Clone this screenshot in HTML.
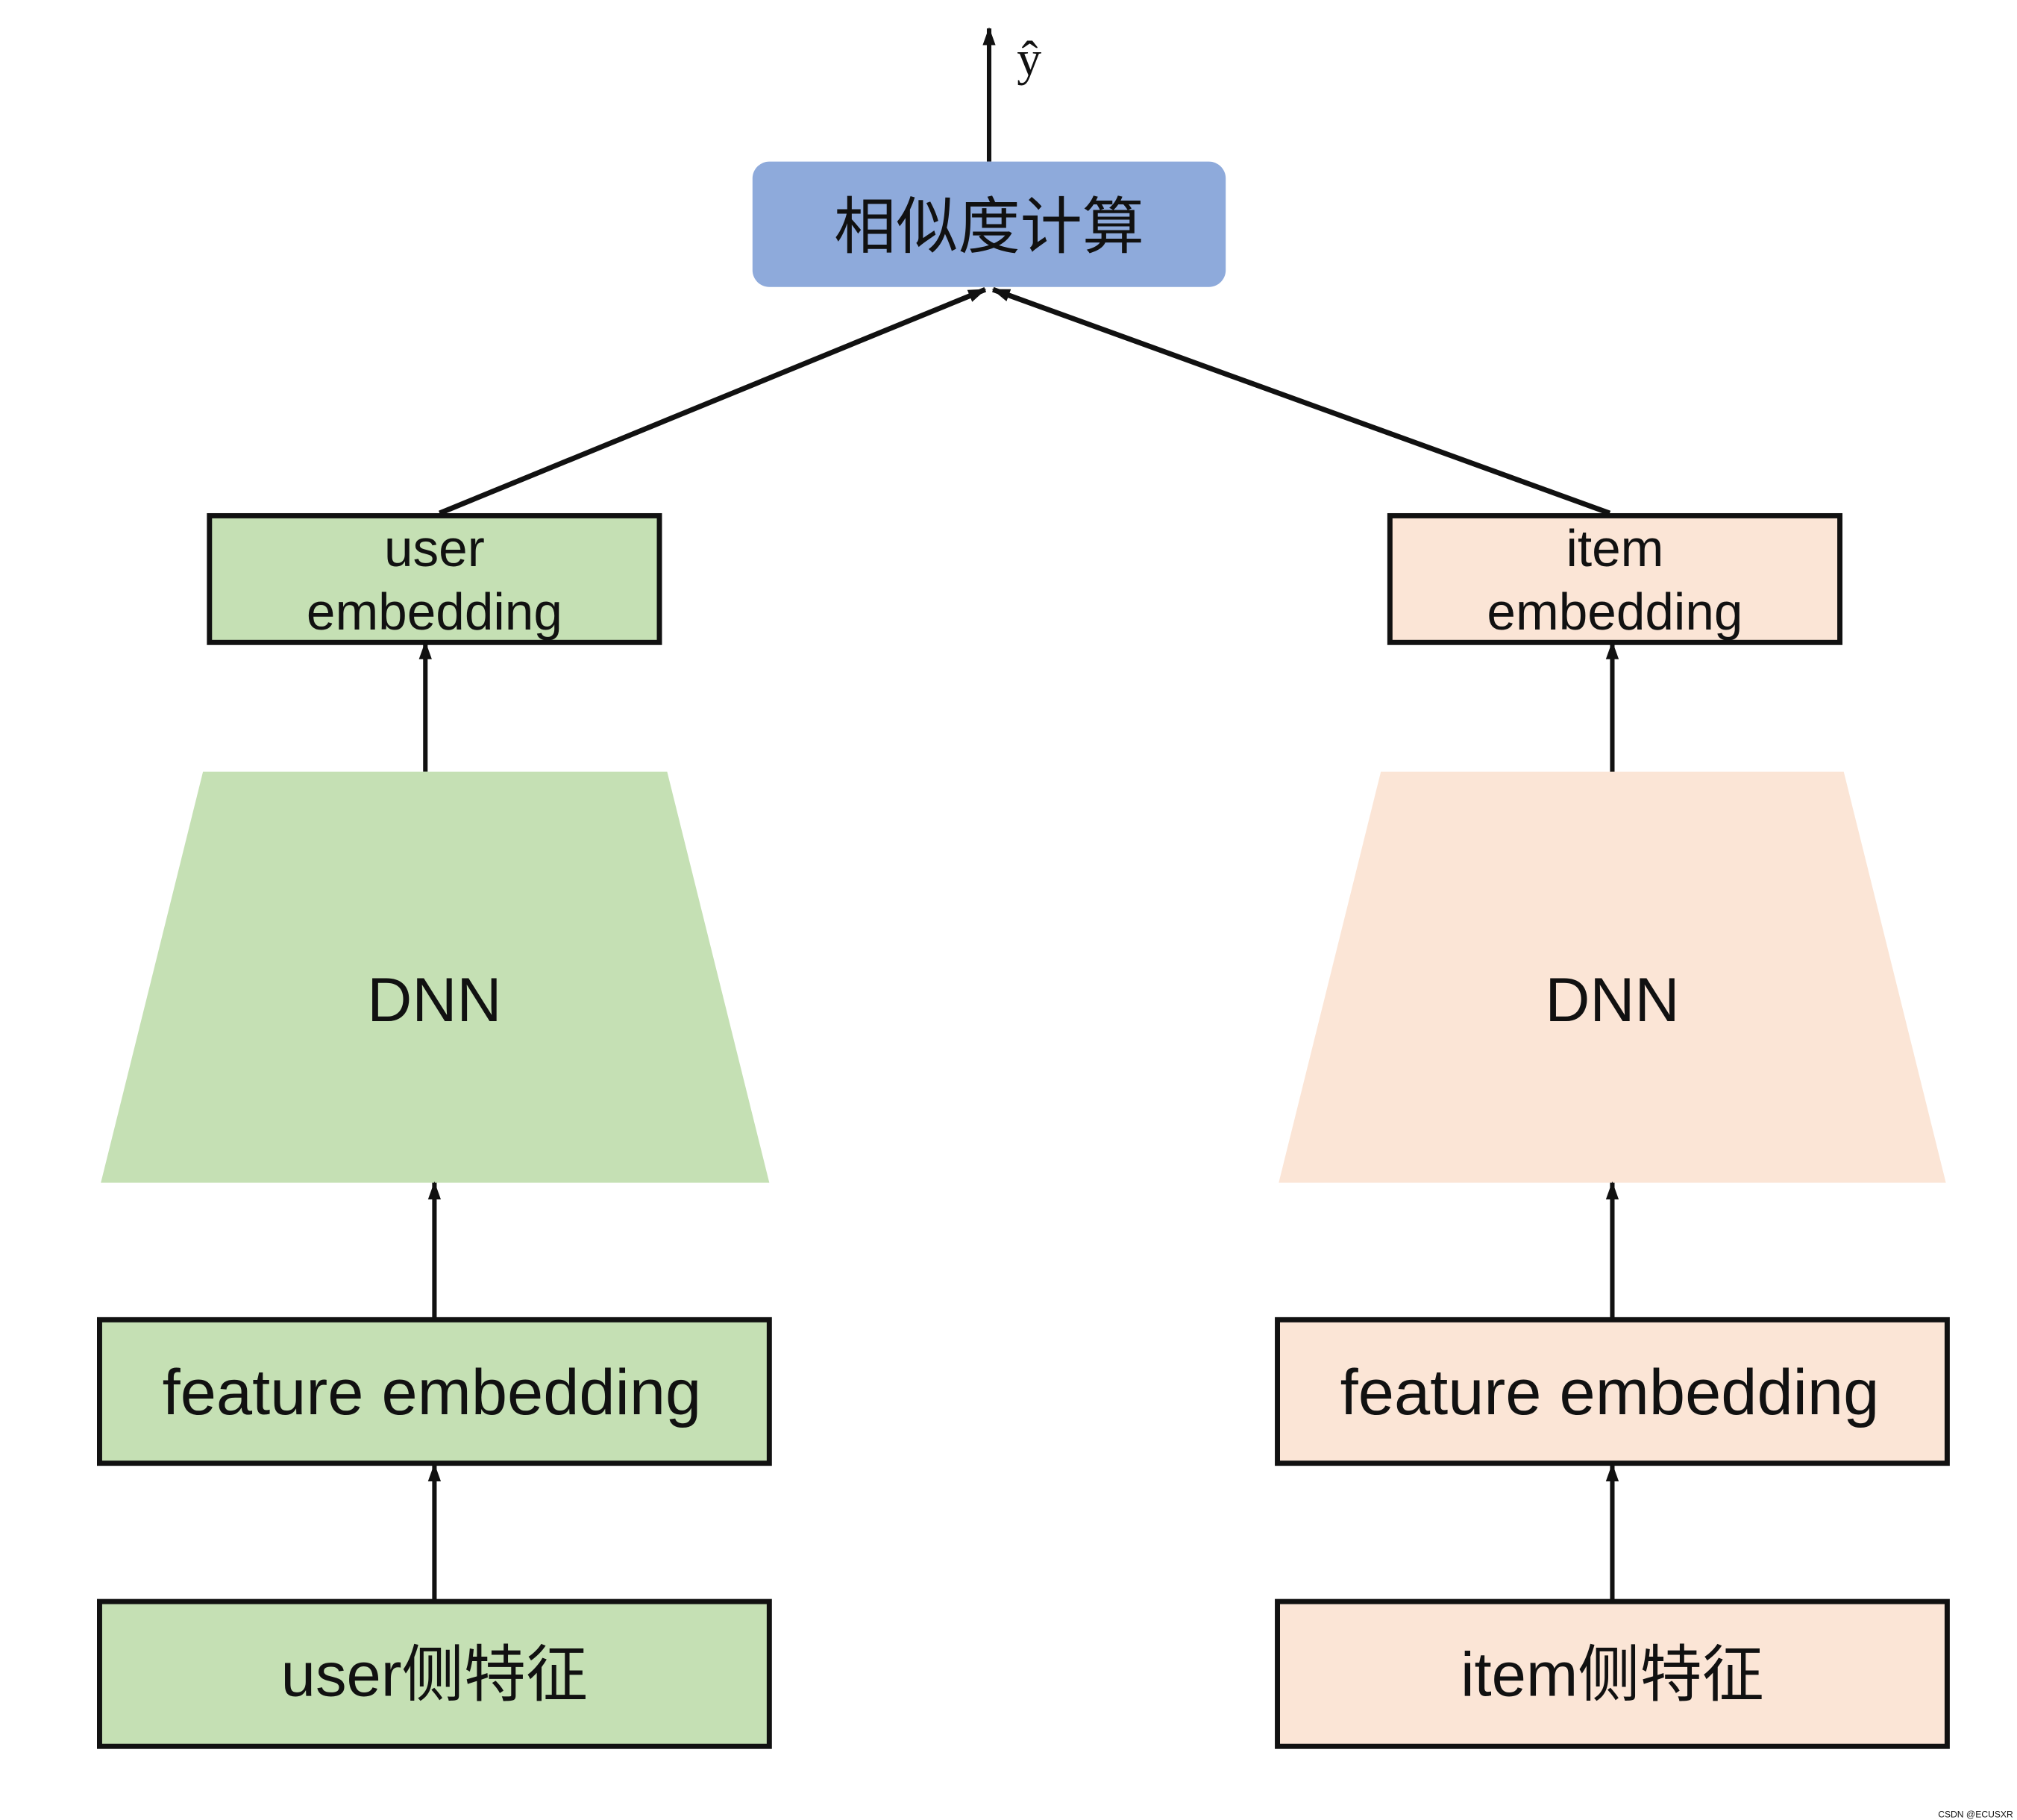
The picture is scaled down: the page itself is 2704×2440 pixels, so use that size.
<!DOCTYPE html>
<html><head><meta charset="utf-8"><style>
html,body{margin:0;padding:0;background:#fff;}
svg{display:block;}
text{font-family:"Liberation Sans","Noto Sans CJK SC",sans-serif;fill:#111;}
</style></head><body>
<svg width="2704" height="2440" viewBox="0 0 1560 1408" preserveAspectRatio="none" xmlns="http://www.w3.org/2000/svg">
<defs>
<marker id="a" markerWidth="14" markerHeight="12" refX="13" refY="6" orient="auto" markerUnits="userSpaceOnUse">
<path d="M0,1 L14,6 L0,11 Z" fill="#111"/>
</marker>
</defs>
<rect width="1560" height="1408" fill="#fff"/>
<line x1="765" y1="125" x2="765" y2="22" stroke="#111" stroke-width="3.5" marker-end="url(#a)"/>
<text x="796" y="58" font-size="38" text-anchor="middle" style="font-family:'Liberation Serif',serif">ŷ</text>
<rect x="582" y="125" width="366" height="97" rx="13" fill="#8eaadb"/>
<text x="765" y="192" font-size="48" text-anchor="middle">相似度计算</text>
<line x1="340" y1="397" x2="762" y2="224" stroke="#111" stroke-width="4" marker-end="url(#a)"/>
<line x1="1245" y1="397" x2="768" y2="224" stroke="#111" stroke-width="4" marker-end="url(#a)"/>
<rect x="162" y="399" width="348" height="98" fill="#c5e0b4" stroke="#111" stroke-width="4"/>
<text x="336" y="438" font-size="40" text-anchor="middle">user</text>
<text x="336" y="487" font-size="40" text-anchor="middle">embedding</text>
<rect x="1075" y="399" width="348" height="98" fill="#fbe5d6" stroke="#111" stroke-width="4"/>
<text x="1249" y="438" font-size="40" text-anchor="middle">item</text>
<text x="1249" y="487" font-size="40" text-anchor="middle">embedding</text>
<line x1="329" y1="597" x2="329" y2="497" stroke="#111" stroke-width="3.5" marker-end="url(#a)"/>
<line x1="1247" y1="599" x2="1247" y2="497" stroke="#111" stroke-width="3.5" marker-end="url(#a)"/>
<polygon points="157,597 516,597 595,915 78,915" fill="#c5e0b4"/>
<text x="336" y="790" font-size="48" text-anchor="middle">DNN</text>
<polygon points="1068,597 1426,597 1505,915 989,915" fill="#fbe5d6"/>
<text x="1247" y="790" font-size="48" text-anchor="middle">DNN</text>
<line x1="336" y1="1020" x2="336" y2="915" stroke="#111" stroke-width="3.5" marker-end="url(#a)"/>
<line x1="1247" y1="1020" x2="1247" y2="915" stroke="#111" stroke-width="3.5" marker-end="url(#a)"/>
<rect x="77" y="1021" width="518" height="111" fill="#c5e0b4" stroke="#111" stroke-width="4"/>
<text x="334" y="1094" font-size="50" text-anchor="middle">feature embedding</text>
<rect x="988" y="1021" width="518" height="111" fill="#fbe5d6" stroke="#111" stroke-width="4"/>
<text x="1245" y="1094" font-size="50" text-anchor="middle">feature embedding</text>
<line x1="336" y1="1238" x2="336" y2="1133" stroke="#111" stroke-width="3.5" marker-end="url(#a)"/>
<line x1="1247" y1="1238" x2="1247" y2="1133" stroke="#111" stroke-width="3.5" marker-end="url(#a)"/>
<rect x="77" y="1239" width="518" height="112" fill="#c5e0b4" stroke="#111" stroke-width="4"/>
<text x="336" y="1312" font-size="48" text-anchor="middle">user侧特征</text>
<rect x="988" y="1239" width="518" height="112" fill="#fbe5d6" stroke="#111" stroke-width="4"/>
<text x="1247" y="1312" font-size="48" text-anchor="middle">item侧特征</text>
<text x="1557" y="1406" font-size="7" text-anchor="end" fill="#999">CSDN @ECUSXR</text>
</svg>
</body></html>
